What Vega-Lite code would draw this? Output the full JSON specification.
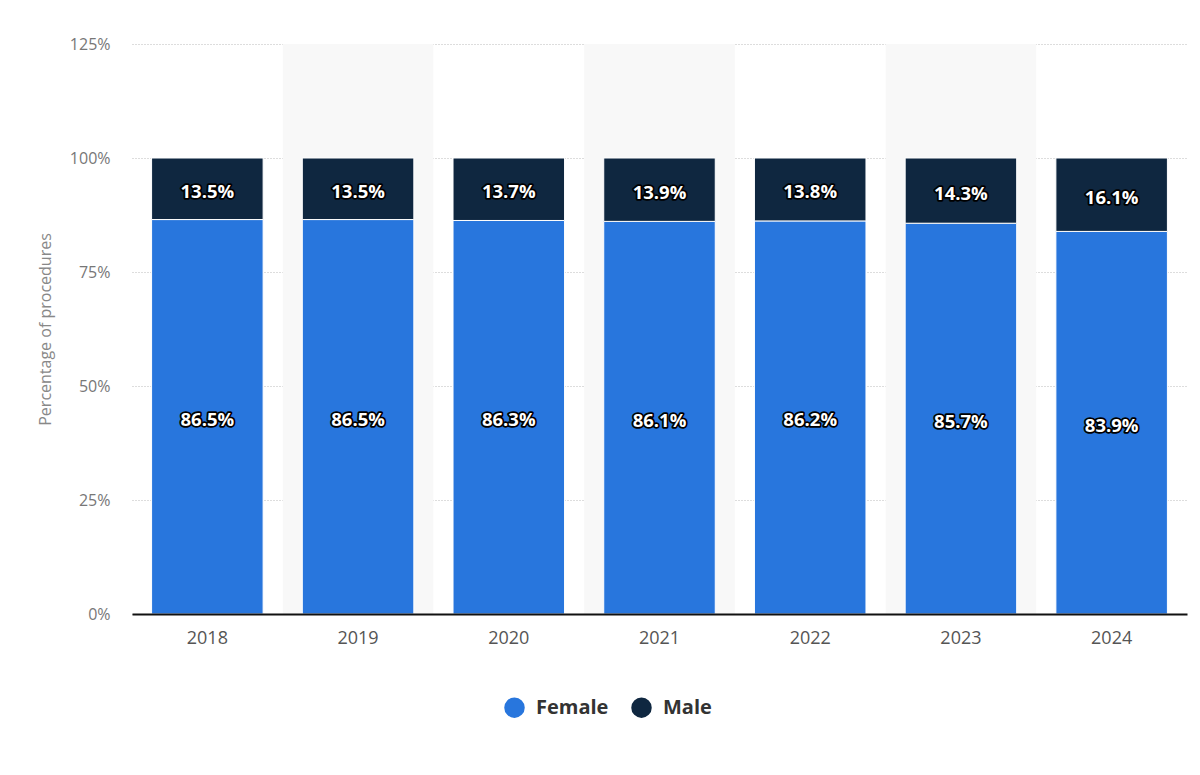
{
  "$schema": "https://vega.github.io/schema/vega-lite/v6.json",
  "width": 1055,
  "height": 570,
  "autosize": {"type": "none"},
  "padding": {"left": 132, "top": 44, "right": 13, "bottom": 161},
  "background": "#ffffff",
  "config": {
    "view": {"stroke": null},
    "font": "Open Sans"
  },
  "datasets": {
    "bars": [
      {"year": "2018", "gender": "Female", "value": 86.5, "label": "86.5%"},
      {"year": "2018", "gender": "Male", "value": 13.5, "label": "13.5%"},
      {"year": "2019", "gender": "Female", "value": 86.5, "label": "86.5%"},
      {"year": "2019", "gender": "Male", "value": 13.5, "label": "13.5%"},
      {"year": "2020", "gender": "Female", "value": 86.3, "label": "86.3%"},
      {"year": "2020", "gender": "Male", "value": 13.7, "label": "13.7%"},
      {"year": "2021", "gender": "Female", "value": 86.1, "label": "86.1%"},
      {"year": "2021", "gender": "Male", "value": 13.9, "label": "13.9%"},
      {"year": "2022", "gender": "Female", "value": 86.2, "label": "86.2%"},
      {"year": "2022", "gender": "Male", "value": 13.8, "label": "13.8%"},
      {"year": "2023", "gender": "Female", "value": 85.7, "label": "85.7%"},
      {"year": "2023", "gender": "Male", "value": 14.3, "label": "14.3%"},
      {"year": "2024", "gender": "Female", "value": 83.9, "label": "83.9%"},
      {"year": "2024", "gender": "Male", "value": 16.1, "label": "16.1%"}
    ],
    "bands": [
      {"year": "2019"},
      {"year": "2021"},
      {"year": "2023"}
    ]
  },
  "encoding": {
    "x": {
      "field": "year",
      "type": "nominal",
      "scale": {"domain": ["2018","2019","2020","2021","2022","2023","2024"], "paddingInner": 0.26, "paddingOuter": 0.13},
      "axis": {
        "title": null,
        "labelAngle": 0,
        "labelFontSize": 18,
        "labelColor": "#555555",
        "labelPadding": 15,
        "ticks": false,
        "domain": true,
        "domainColor": "#111111",
        "domainWidth": 2,
        "grid": false,
        "zindex": 1
      }
    }
  },
  "layer": [
    {
      "data": {"name": "bands"},
      "mark": {"type": "bar", "width": {"band": 1.35}, "fill": "#f8f8f8"},
      "encoding": {
        "y": {"datum": 0, "type": "quantitative"},
        "y2": {"datum": 125}
      }
    },
    {
      "data": {"name": "bars"},
      "mark": {"type": "bar", "stroke": "#ffffff", "strokeWidth": 1},
      "encoding": {
        "y": {
          "field": "value",
          "type": "quantitative",
          "stack": "zero",
          "scale": {"domain": [0, 125], "nice": false},
          "axis": {
            "title": "Percentage of procedures",
            "titleFontSize": 16,
            "titleFontWeight": "normal",
            "titleColor": "#888888",
            "titlePadding": 16,
            "values": [0, 25, 50, 75, 100, 125],
            "labelExpr": "datum.value + '%'",
            "labelFontSize": 16,
            "labelColor": "#777777",
            "labelPadding": 22,
            "ticks": false,
            "domain": false,
            "grid": true,
            "gridColor": "#bbbbbb",
            "gridDash": [1, 2],
            "gridWidth": 1
          }
        },
        "color": {
          "field": "gender",
          "type": "nominal",
          "scale": {"domain": ["Female", "Male"], "range": ["#2876dd", "#0f2740"]},
          "legend": {
            "title": null,
            "orient": "none",
            "direction": "horizontal",
            "legendX": 372,
            "legendY": 653,
            "symbolType": "circle",
            "symbolSize": 420,
            "symbolStrokeWidth": 0,
            "labelFontSize": 20,
            "labelFontWeight": "bold",
            "labelColor": "#333333",
            "labelOffset": 11,
            "columnPadding": 22
          }
        },
        "order": {"field": "gender", "sort": "ascending"}
      }
    },
    {
      "data": {"name": "bars"},
      "transform": [
        {"stack": "value", "groupby": ["year"], "sort": [{"field": "gender", "order": "ascending"}], "as": ["v0", "v1"]},
        {"calculate": "(datum.v0 + datum.v1) / 2", "as": "mid"}
      ],
      "layer": [
        {
          "mark": {"type": "text", "fontSize": 18.5, "fontWeight": "bold", "dy": 3, "fill": "#000000", "stroke": "#000000", "strokeWidth": 3.5, "strokeJoin": "round"},
          "encoding": {
            "y": {"field": "mid", "type": "quantitative"},
            "text": {"field": "label"}
          }
        },
        {
          "mark": {"type": "text", "fontSize": 18.5, "fontWeight": "bold", "dy": 3, "fill": "#ffffff"},
          "encoding": {
            "y": {"field": "mid", "type": "quantitative"},
            "text": {"field": "label"}
          }
        }
      ]
    }
  ]
}
